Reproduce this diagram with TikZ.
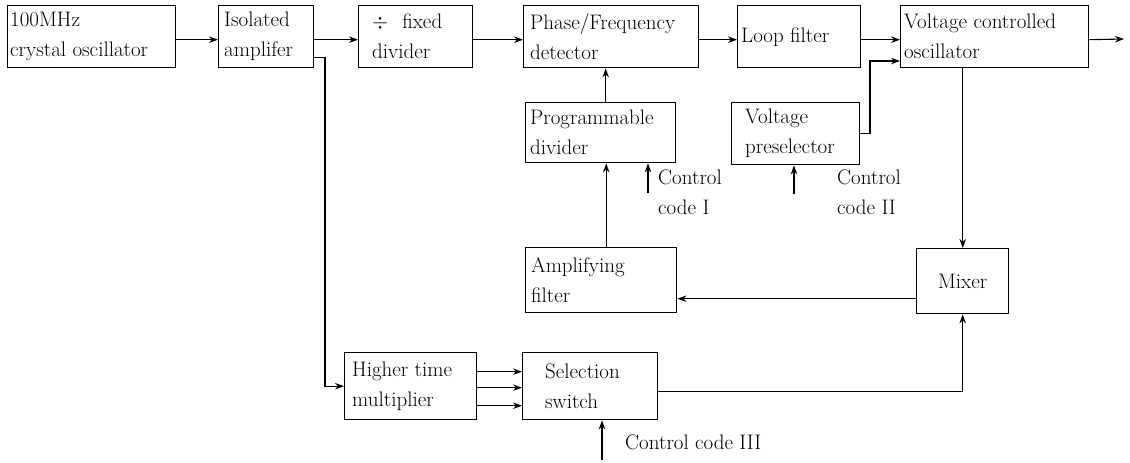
\documentclass[tikz,border=0pt]{standalone}
\usepackage{fontspec}
\usetikzlibrary{arrows.meta,calc}
\newcommand\diagfont{\fontsize{21}{30}\selectfont\addfontfeatures{LetterSpace=2.5,WordSpace=1.3}}
\tikzset{
  blk/.style={draw, line width=1.4pt, inner sep=0pt, anchor=north west},
  txt/.style={align=left, inner sep=0pt, anchor=west, font=\diagfont},
  arr/.style={line width=1.1pt, -{Stealth[length=9pt,width=6.5pt]}},
}
\begin{document}
\begin{tikzpicture}[x=1pt,y=-1pt]
\useasboundingbox (0,0) rectangle (1130,463);
% boxes
\node[blk, minimum width=168pt, minimum height=62pt] (osc) at (7,5) {};
\node[blk, minimum width=95pt,  minimum height=62pt] (iso) at (218,5) {};
\node[blk, minimum width=114pt, minimum height=62pt] (div) at (358,5) {};
\node[blk, minimum width=175pt, minimum height=62pt] (pfd) at (523,5) {};
\node[blk, minimum width=123pt, minimum height=62pt] (loop) at (737,5) {};
\node[blk, minimum width=188pt, minimum height=62pt] (vco) at (900,5) {};
\node[blk, minimum width=150pt, minimum height=60pt] (prog) at (525,102) {};
\node[blk, minimum width=128pt, minimum height=62pt] (volt) at (731,102) {};
\node[blk, minimum width=151pt, minimum height=65pt] (amp) at (525,247) {};
\node[blk, minimum width=92pt,  minimum height=65pt] (mix) at (916,248) {};
\node[blk, minimum width=132pt, minimum height=67pt] (htm) at (344,352) {};
\node[blk, minimum width=135pt, minimum height=67pt] (sel) at (522,352) {};
% texts
\node[txt] (osct) at ([xshift=3pt]osc.west) {100MHz\\crystal oscillator};
\node[txt] (isot) at ([xshift=6pt]iso.west) {Isolated\\amplifer};
\node[txt] (divt) at ([xshift=14pt]div.west) {$\div$\hspace{14pt}fixed\\divider};
\node[txt] (pfdt) at ([xshift=7pt]pfd.west) {Phase/Frequency\\detector};
\node[txt] (loopt) at ([xshift=4pt]loop.west) {Loop filter};
\node[txt] (vcot) at ([xshift=4pt]vco.west) {Voltage controlled\\oscillator};
\node[txt] (progt) at ([xshift=5pt]prog.west) {Programmable\\divider};
\node[txt] (voltt) at ([xshift=14pt]volt.west) {Voltage\\preselector};
\node[txt] (ampt) at ([xshift=6pt]amp.west) {Amplifying\\filter};
\node[txt, anchor=center] (mixt) at (mix.center) {Mixer};
\node[txt] (htmt) at ([xshift=8pt]htm.west) {Higher time\\multiplier};
\node[txt] (selt) at ([xshift=23pt]sel.west) {Selection\\switch};
% top row connectors
\draw[arr] ([yshift=-3pt]osc.east) -- ([yshift=-3pt]iso.west);
\draw[arr] ([yshift=-3pt]iso.east) -- ([yshift=-3pt]div.west);
\draw[arr] ([yshift=-3pt]div.east) -- ([yshift=-3pt]pfd.west);
\draw[arr] ([yshift=-3pt]pfd.east) -- ([yshift=-3pt]loop.west);
\draw[arr] ([yshift=-3pt]loop.east) -- ([yshift=-3pt]vco.west);
\coordinate (out) at (1124,39);
\draw[arr] ([yshift=-3pt]vco.east) -- (out);
% branch from isolated amplifier to multiplier
\coordinate (br) at (325,0);
\draw[arr] ([yshift=-21pt]iso.east) -| (br |- htm.west) -- (htm.west);
% programmable divider chain
\draw[arr] ([xshift=5pt]prog.north) -- ([xshift=5pt]prog.north |- pfd.south);
\draw[arr] ([xshift=5pt]amp.north) -- ([xshift=5pt]amp.north |- prog.south);
\coordinate (c1) at (648,193);
\draw[arr] (c1) -- (c1 |- prog.south);
\node[txt, anchor=north west] (c1t) at (658,170) {Control\\code I};
% voltage preselector
\coordinate (vj) at (870,61);
\draw[arr] (volt.east) -| (vj) -- (vj -| vco.west);
\coordinate (c2) at (794,194);
\draw[arr] (c2) -- (c2 |- volt.south);
\node[txt, anchor=north west] (c2t) at (837,170) {Control\\code II};
% VCO to mixer, mixer to amplifying filter
\draw[arr] (mix.north |- vco.south) -- (mix.north);
\draw[arr] ([yshift=-17.5pt]mix.west) -- ([yshift=-17.5pt]mix.west -| amp.east);
% multiplier to selection switch
\foreach \s in {14.5,-1.5,-19.5}
  \draw[arr] ([yshift=\s pt]htm.east) -- ([yshift=\s pt]sel.west);
\draw[arr] ([yshift=-5.5pt]sel.east) -| (mix.south);
\coordinate (c3) at (602,460);
\draw[arr] (c3) -- (c3 |- sel.south);
\node[txt] (c3t) at (625,442) {Control code III};
\end{tikzpicture}
\end{document}
